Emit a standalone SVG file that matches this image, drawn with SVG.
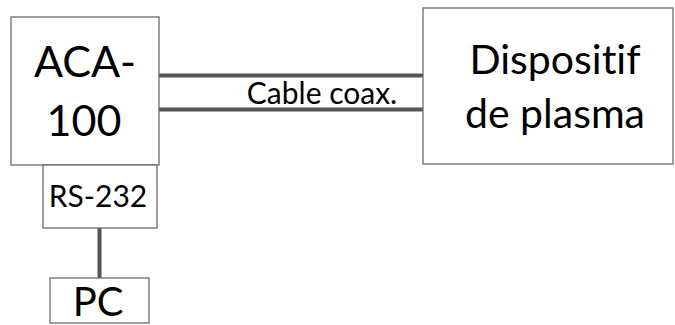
<svg xmlns="http://www.w3.org/2000/svg" width="675" height="325" viewBox="0 0 675 325">
  <style>
    .box { fill: #ffffff; stroke: #6b6b6b; stroke-width: 1.3; }
    .wire { stroke: #555555; stroke-width: 4; fill: none; }
    .lbl { font-family: Lato, "Liberation Sans", sans-serif; fill: #000000; text-anchor: middle; font-variant-ligatures: none; }
  </style>
  <rect width="675" height="325" fill="#ffffff"/>
  <g id="connectors">
    <line class="wire" x1="159" y1="75.5" x2="423" y2="75.5"/>
    <line class="wire" x1="159" y1="109.5" x2="423" y2="109.5"/>
    <line class="wire" x1="99.5" y1="228" x2="99.5" y2="278" stroke="#4a4a4a" stroke-width="5"/>
    <text class="lbl" x="322" y="104" font-size="30">Cable coax.</text>
  </g>
  <g id="aca100">
    <rect class="box" x="11" y="17" width="148" height="148"/>
    <text class="lbl" x="85" y="77" font-size="43">ACA-</text>
    <text class="lbl" x="84" y="136" font-size="43">100</text>
  </g>
  <g id="rs232">
    <rect class="box" x="43" y="165" width="114" height="63"/>
    <text class="lbl" x="98" y="207" font-size="30">RS-232</text>
  </g>
  <g id="pc">
    <rect class="box" x="50" y="278" width="99" height="45"/>
    <text class="lbl" x="98" y="316" font-size="40">PC</text>
  </g>
  <g id="dispositif">
    <rect class="box" x="423" y="8" width="250" height="156"/>
    <text class="lbl" x="555" y="74" font-size="41">Dispositif</text>
    <text class="lbl" x="555" y="128" font-size="41">de plasma</text>
  </g>
</svg>
